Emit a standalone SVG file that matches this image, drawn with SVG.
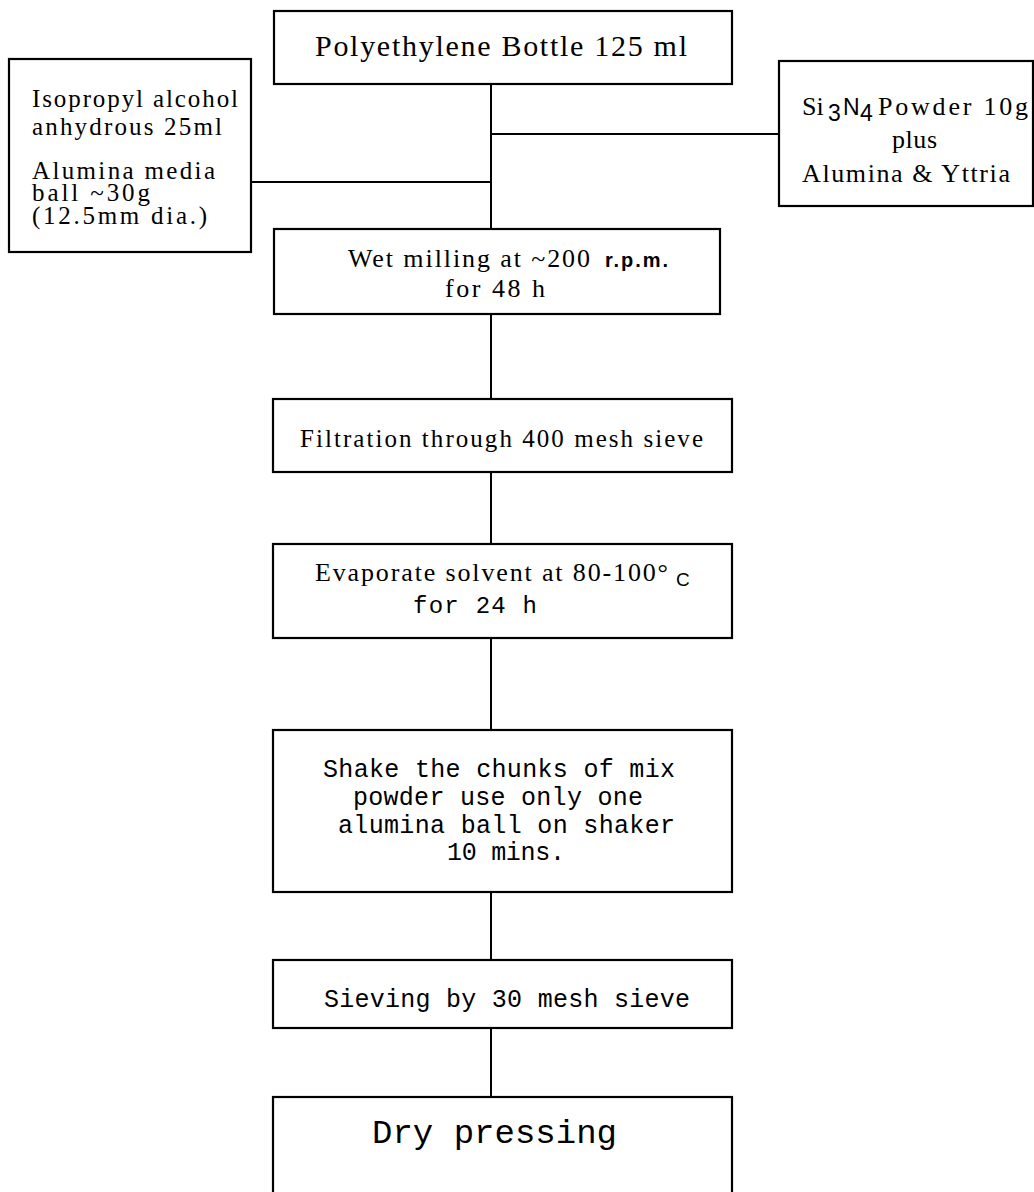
<svg xmlns="http://www.w3.org/2000/svg" width="1034" height="1192" viewBox="0 0 1034 1192">
<style>
.box{fill:#fff;stroke:#000;stroke-width:2.2}
.ln{stroke:#000;stroke-width:2;fill:none}
.serif{font-family:"Liberation Serif","Times New Roman",serif;fill:#000}
.mono{font-family:"Liberation Mono","Courier New",monospace;fill:#000}
.sans{font-family:"Liberation Sans",Arial,sans-serif;fill:#000}
</style>
<rect width="1034" height="1192" fill="#fff"/>
<g id="connectors">
<line class="ln" x1="491" y1="84" x2="491" y2="229"/>
<line class="ln" x1="251" y1="182" x2="491" y2="182"/>
<line class="ln" x1="491" y1="134" x2="779" y2="134"/>
<line class="ln" x1="491" y1="314" x2="491" y2="399"/>
<line class="ln" x1="491" y1="472" x2="491" y2="544"/>
<line class="ln" x1="491" y1="638" x2="491" y2="730"/>
<line class="ln" x1="491" y1="892" x2="491" y2="960"/>
<line class="ln" x1="491" y1="1028" x2="491" y2="1097"/>
</g>
<g id="bottle">
<rect class="box" x="274" y="11" width="458" height="73"/>
<text class="serif" x="315" y="56" font-size="30" textLength="372">Polyethylene Bottle 125 ml</text>
</g>
<g id="solvent">
<rect class="box" x="9" y="59" width="242" height="193"/>
<text class="serif" font-size="25">
<tspan x="32" y="107" textLength="206">Isopropyl alcohol</tspan>
<tspan x="32" y="135" textLength="190">anhydrous 25ml</tspan>
<tspan x="32" y="179" textLength="183">Alumina media</tspan>
<tspan x="32" y="201" textLength="118">ball  ~30g</tspan>
<tspan x="32" y="224" textLength="175">(12.5mm dia.)</tspan>
</text>
</g>
<g id="powder">
<rect class="box" x="779" y="61" width="254" height="145"/>
<text class="serif" font-size="26"><tspan x="802" y="115">Si</tspan><tspan class="sans" font-size="23" x="828" y="121">3</tspan><tspan class="sans" font-size="23" x="843" y="115">N</tspan><tspan class="sans" font-size="23" x="860" y="121">4</tspan><tspan x="878" y="115" textLength="150">Powder 10g</tspan></text>
<text class="serif" x="892" y="148" font-size="26" textLength="45">plus</text>
<text class="serif" x="802" y="182" font-size="26" textLength="208">Alumina &amp; Yttria</text>
</g>
<g id="milling">
<rect class="box" x="274" y="229" width="446" height="85"/>
<text class="serif" x="348" y="267" font-size="26" textLength="242">Wet milling at ~200</text>
<text class="sans" x="605" y="267" font-size="20" font-weight="bold" textLength="63">r.p.m.</text>
<text class="serif" x="445" y="297" font-size="26" textLength="100">for 48 h</text>
</g>
<g id="filtration">
<rect class="box" x="273" y="399" width="459" height="73"/>
<text class="serif" x="300" y="447" font-size="25" textLength="403">Filtration through 400 mesh sieve</text>
</g>
<g id="evaporate">
<rect class="box" x="273" y="544" width="459" height="94"/>
<text class="serif" x="315" y="581" font-size="26" textLength="353">Evaporate solvent at 80-100°</text>
<text class="sans" x="676" y="586" font-size="19">C</text>
<text class="mono" x="413" y="613" font-size="24" textLength="124">for 24 h</text>
</g>
<g id="shake">
<rect class="box" x="273" y="730" width="459" height="162"/>
<text class="mono" font-size="25">
<tspan x="323" y="777" textLength="352">Shake the chunks of mix</tspan>
<tspan x="353" y="805" textLength="290">powder use only one</tspan>
<tspan x="338" y="833" textLength="337">alumina ball on shaker</tspan>
<tspan x="447" y="860" textLength="118">10 mins.</tspan>
</text>
</g>
<g id="sieving">
<rect class="box" x="273" y="960" width="459" height="68"/>
<text class="mono" x="324" y="1007" font-size="25" textLength="366">Sieving by 30 mesh sieve</text>
</g>
<g id="pressing">
<rect class="box" x="273" y="1097" width="459" height="110"/>
<text class="mono" x="372" y="1143" font-size="34" textLength="245">Dry pressing</text>
</g>
</svg>
